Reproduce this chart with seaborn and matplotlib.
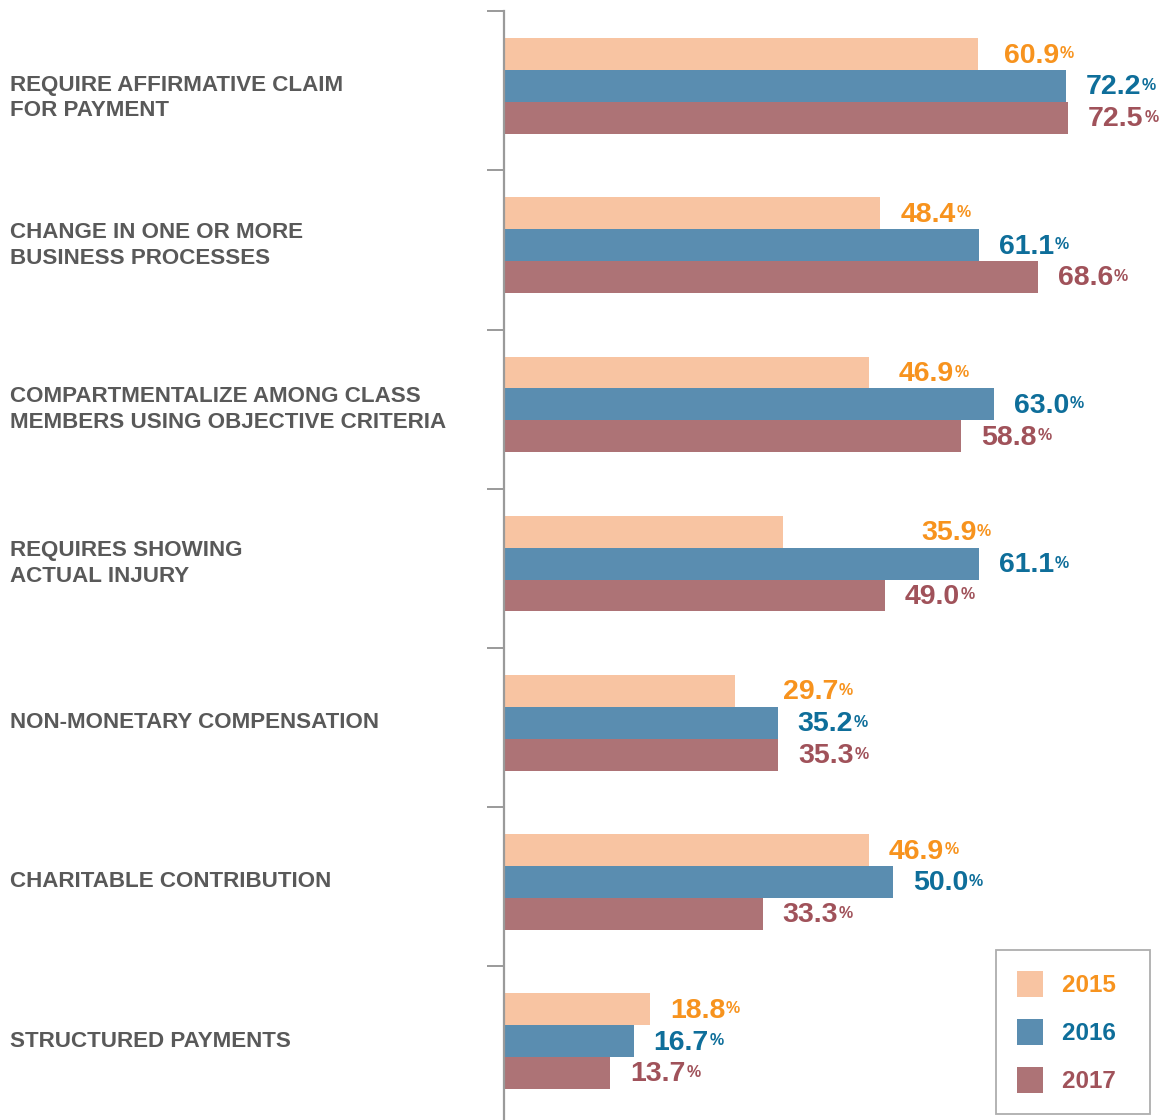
import pandas as pd
import numpy as np
import matplotlib
matplotlib.use("Agg")
import matplotlib.pyplot as plt
import matplotlib.transforms as mtransforms
import seaborn as sns
from matplotlib.patches import Patch

# data
categories = [
    "REQUIRE AFFIRMATIVE CLAIM\nFOR PAYMENT",
    "CHANGE IN ONE OR MORE\nBUSINESS PROCESSES",
    "COMPARTMENTALIZE AMONG CLASS\nMEMBERS USING OBJECTIVE CRITERIA",
    "REQUIRES SHOWING\nACTUAL INJURY",
    "NON-MONETARY COMPENSATION",
    "CHARITABLE CONTRIBUTION",
    "STRUCTURED PAYMENTS",
]
years = ["2015", "2016", "2017"]
vals_2015 = [60.9, 48.4, 46.9, 35.9, 29.7, 46.9, 18.8]
vals_2016 = [72.2, 61.1, 63.0, 61.1, 35.2, 50.0, 16.7]
vals_2017 = [72.5, 68.6, 58.8, 49.0, 35.3, 33.3, 13.7]

bar_colors = ["#F8C4A2", "#5A8DB0", "#AD7376"]
text_colors = ["#F7931E", "#0E6E9A", "#A0525A"]
label_gray = "#595959"
axis_gray = "#9A9A9A"

df = pd.DataFrame({
    "category": categories * 3,
    "year": [y for y in years for _ in categories],
    "value": vals_2015 + vals_2016 + vals_2017,
})

sns.set_style("white")
plt.rcParams["font.family"] = ["Liberation Sans", "DejaVu Sans"]

fig = plt.figure(figsize=(11.62, 11.2), dpi=100)
ax = fig.add_axes([503.5 / 1162, 0, 1 - 503.5 / 1162, 1])

sns.barplot(data=df, x="value", y="category", hue="year", orient="h",
            palette=bar_colors, saturation=1, width=0.6, errorbar=None,
            legend=False, linewidth=0, ax=ax)

ax.set_xlim(0, 84.57)
ax.set_ylim(6.495, -0.54)
ax.set_xlabel("")
ax.set_ylabel("")
ax.set_xticks([])

for s in ["top", "right", "bottom"]:
    ax.spines[s].set_visible(False)
ax.spines["left"].set_color(axis_gray)
ax.spines["left"].set_linewidth(1.6)
ax.spines["left"].set_bounds(-0.47, 6.495)

# category labels drawn at the left edge of the figure
ax.tick_params(axis="y", which="major", length=0, labelleft=False)
trans = mtransforms.blended_transform_factory(fig.transFigure, ax.transData)
label_shift = {0: 0.075, 2: 0.03}
for i, cat in enumerate(categories):
    ax.text(10 / 1162, i + label_shift.get(i, 0), cat, transform=trans,
            ha="left", va="center", fontsize=16.1, fontweight="bold",
            color=label_gray, linespacing=1.3)

# little separators between groups
ax.set_yticks([i - 0.47 for i in range(len(categories))], minor=True)
ax.tick_params(axis="y", which="minor", length=12, width=1.4,
               color=axis_gray, direction="out", left=True)

# value labels (a few were nudged in the original)
nudge = {(0, 0): 6, (2, 0): 10, (3, 0): 118, (4, 0): 28}
for k, cont in enumerate(ax.containers):
    for i, bar in enumerate(cont):
        v = bar.get_width()
        yc = bar.get_y() + bar.get_height() / 2
        dx = (20 + nudge.get((i, k), 0)) * 0.72
        t = ax.annotate(f"{v:.1f}", xy=(v, yc), xytext=(dx, -1),
                        textcoords="offset points", ha="left", va="center",
                        fontsize=20.5, fontweight="bold", color=text_colors[k])
        ax.annotate("%", xy=(1, 0.86), xycoords=t, xytext=(0.5, 0),
                    textcoords="offset points", ha="left", va="top",
                    fontsize=11.5, fontweight="bold", color=text_colors[k])

handles = [Patch(facecolor=c, edgecolor="none") for c in bar_colors]
leg = fig.legend(handles, [y + "  " for y in years], loc="lower right",
                 bbox_to_anchor=(1150 / 1162, 6 / 1120),
                 prop={"weight": "bold", "size": 17.5},
                 frameon=True, fancybox=False, edgecolor="#999999",
                 handlelength=1.07, handleheight=1.28, handletextpad=0.78,
                 labelspacing=0.9, borderpad=0.85, borderaxespad=0)
leg.get_frame().set_linewidth(1.3)
for txt, c in zip(leg.get_texts(), text_colors):
    txt.set_color(c)

fig.savefig("out.png", dpi=100)
